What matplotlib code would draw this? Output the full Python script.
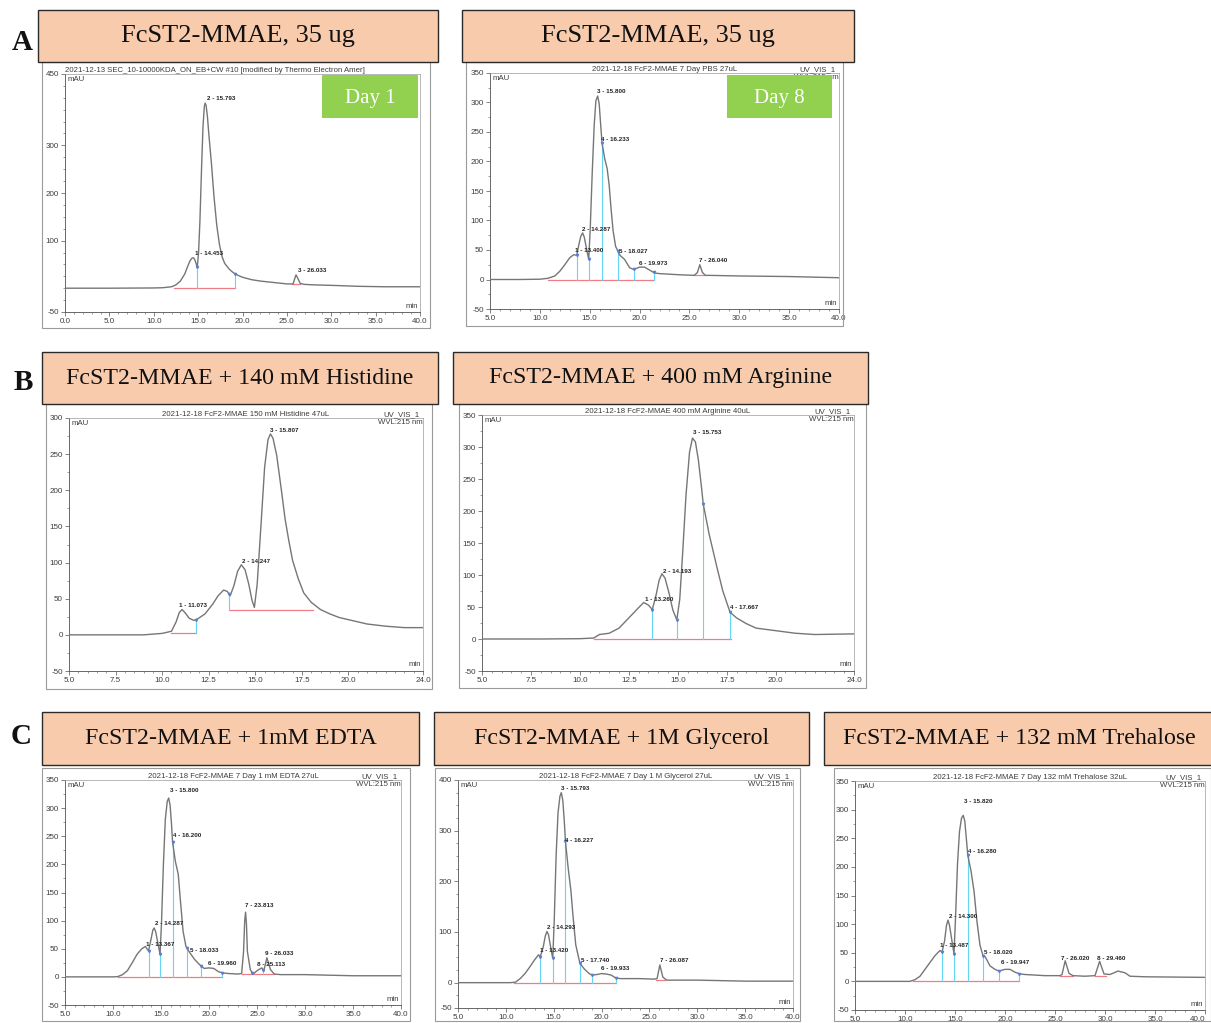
import matplotlib
matplotlib.use("Agg")
import matplotlib.pyplot as plt
import matplotlib.patches as mpatches
import matplotlib.ticker as mticker
import numpy as np

# Canvas in pixels
W, H = 1211, 1023

# ---------------------------------------------------------------- data
# A1: FcST2-MMAE, 35 ug, day 1
a1_time = [0, 5, 10, 11, 12, 12.5, 13, 13.5, 13.8, 14.1, 14.3, 14.45, 14.6, 14.75, 14.9,
           15.05, 15.2, 15.4, 15.55, 15.7, 15.79, 15.9, 16.05, 16.2, 16.5, 16.8, 17.1, 17.4,
           17.7, 18.0, 18.5, 19.0, 19.5, 20, 21, 22, 23, 24, 25, 25.7, 25.85, 26.03, 26.2,
           26.5, 27, 28, 30, 33, 36, 40]
a1_signal = [0, 0, 0.5, 1, 3, 7, 15, 30, 45, 58, 63, 64, 61, 53, 44,
             75, 140, 260, 340, 382, 389, 384, 360, 325, 262, 190, 132, 92,
             66, 52, 40, 32, 27, 23, 18, 15, 13, 11, 9, 9, 18, 28, 22,
             10, 8, 7, 6, 4, 3, 3]
a1_peak_labels = ["1 - 14.453", "2 - 15.793", "3 - 26.033"]
a1_label_t = [14.6, 16.0, 26.2]
a1_label_y = [72, 398, 38]
a1_drops = [14.9, 19.2]
a1_baselines = [(12.3, 19.2, 1), (25.6, 26.5, 8)]

# A2: FcST2-MMAE, 35 ug, day 8 (PBS)
a2_time = [5, 8, 10, 10.8, 11.5, 12, 12.5, 13, 13.4, 13.7, 13.9, 14.1, 14.287, 14.45, 14.65,
           14.9, 15.05, 15.25, 15.45, 15.62, 15.8, 15.95, 16.1, 16.233, 16.5, 16.75, 16.95,
           17.15, 17.35, 17.6, 18.03, 18.5, 19.0, 19.4, 20.0, 20.5, 21.0, 21.5, 22, 24, 25.5,
           25.8, 26.04, 26.3, 26.6, 27, 30, 35, 40]
a2_signal = [0, 0, 0.5, 2, 6, 14, 25, 37, 42, 41, 58, 73, 79, 72, 55,
             34, 85, 180, 262, 303, 311, 298, 262, 232, 205, 188, 160,
             118, 82, 56, 41, 34, 20, 17, 21, 21, 16, 11, 10, 8, 7,
             12, 25, 12, 7, 7, 6, 5, 3]
a2_peak_labels = ["1 - 13.400", "2 - 14.287", "3 - 15.800", "4 - 16.233",
                  "5 - 18.027", "6 - 19.973", "7 - 26.040"]
a2_label_t = [13.5, 14.27, 15.77, 16.17, 17.93, 19.9, 26.0]
a2_label_y = [50, 85, 318, 237, 48, 27, 32]
a2_drops = [13.7, 14.9, 16.233, 17.8, 19.4, 21.4]
a2_baselines = [(10.8, 21.4, 0), (25.5, 26.6, 7)]

# B1: + 140 mM histidine
b1_time = [5, 8, 9, 10, 10.5, 10.75, 10.92, 11.07, 11.25, 11.45, 11.7, 11.9, 12.3, 12.7,
           13.0, 13.3, 13.5, 13.65, 13.85, 14.05, 14.25, 14.45, 14.65, 14.82, 14.95, 15.1,
           15.3, 15.5, 15.68, 15.81, 15.95, 16.15, 16.4, 16.6, 16.8, 17.0, 17.3, 17.6, 18.0,
           18.5, 19.0, 19.5, 20, 21, 22, 23, 24]
b1_signal = [0, 0, 0, 2, 5, 18, 31, 35, 30, 23, 20, 22, 29, 42,
             54, 62, 60, 54, 68, 88, 97, 90, 70, 48, 38, 70,
             150, 232, 270, 278, 272, 248, 200, 160, 130, 103, 78, 58, 45,
             35, 29, 24, 21, 15, 12, 10, 10]
b1_peak_labels = ["1 - 11.073", "2 - 14.247", "3 - 15.807"]
b1_label_t = [10.91, 14.27, 15.79]
b1_label_y = [40, 101, 283]
b1_drops = [11.8, 13.6]
b1_baselines = [(10.5, 11.8, 3), (13.6, 18.1, 35)]

# B2: + 400 mM arginine
b2_time = [5, 8, 10, 10.7, 11.0, 11.5, 12.0, 12.5, 13.0, 13.26, 13.5, 13.7, 13.9, 14.05,
           14.19, 14.35, 14.55, 14.75, 14.95, 15.1, 15.25, 15.42, 15.6, 15.75, 15.9, 16.05,
           16.2, 16.3, 16.6, 17.0, 17.3, 17.667, 18.0, 18.5, 19, 20, 21, 22, 24]
b2_signal = [0, 0, 0.5, 1.5, 7, 9, 17, 33, 49, 57, 53, 46, 70, 92,
             102, 95, 72, 45, 30, 62, 135, 225, 292, 314, 308, 280,
             240, 211, 164, 112, 75, 42, 33, 24, 17, 13, 9, 7, 8]
b2_peak_labels = ["1 - 13.260", "2 - 14.193", "3 - 15.753", "4 - 17.667"]
b2_label_t = [13.33, 14.22, 15.8, 17.69]
b2_label_y = [62, 106, 322, 49]
b2_drops = [13.7, 14.95, 16.3, 17.667]
b2_baselines = [(10.7, 17.7, 0)]

# C1: + 1 mM EDTA
c1_time = [5, 8, 10, 10.5, 11, 11.5, 12, 12.5, 13.0, 13.367, 13.7, 13.95, 14.15, 14.287,
           14.45, 14.7, 14.9, 15.05, 15.25, 15.45, 15.65, 15.8, 15.95, 16.1, 16.2, 16.5,
           16.8, 17.0, 17.3, 17.6, 18.0, 18.5, 19, 19.5, 20, 20.5, 21.0, 21.5, 22, 23, 23.4,
           23.6, 23.72, 23.81, 23.9, 24.0, 24.3, 24.6, 25.0, 25.5, 25.7, 26.03, 26.4, 26.8,
           27.5, 30, 35, 40]
c1_signal = [0, 0, 0, 0.5, 4, 11, 25, 40, 50, 54, 46, 66, 83, 87,
             80, 58, 40, 95, 200, 280, 312, 318, 305, 270, 240, 205,
             182, 140, 81, 54, 43, 31, 22, 15, 16, 15, 9, 7, 6, 5, 6,
             45, 100, 115, 95, 45, 13, 5, 11, 16, 10, 34, 13, 5,
             4, 4, 2, 2]
c1_peak_labels = ["1 - 13.367", "2 - 14.287", "3 - 15.800", "4 - 16.200", "5 - 18.033",
                  "6 - 19.960", "7 - 23.813", "8 - 25.113", "9 - 26.033"]
c1_label_t = [13.4, 14.4, 15.9, 16.2, 18.0, 19.9, 23.7, 25.0, 25.8]
c1_label_y = [58, 95, 332, 252, 47, 24, 127, 22, 41]
c1_drops = [13.7, 14.9, 16.2, 17.7, 19.2, 21.4, 24.5, 25.6]
c1_baselines = [(10.5, 21.4, 0), (23.4, 26.8, 5)]

# C2: + 1 M glycerol
c2_time = [5, 8, 10.5, 11, 11.5, 12, 12.5, 13, 13.42, 13.6, 13.9, 14.12, 14.29, 14.45, 14.7,
           14.9, 15.05, 15.25, 15.45, 15.65, 15.79, 15.95, 16.1, 16.227, 16.5, 16.8, 17.0,
           17.3, 17.74, 18.2, 18.7, 19.0, 19.5, 20.0, 20.5, 21.0, 21.5, 22, 24, 25.5, 25.8,
           26.09, 26.4, 26.8, 28, 30, 35, 40]
c2_signal = [0, 0, 0, 1, 8, 18, 31, 45, 55, 51, 70, 92, 101, 95, 68,
             48, 120, 250, 335, 368, 375, 360, 320, 279, 228, 181, 135,
             75, 38, 27, 18, 15, 16, 18, 17, 15, 9, 8, 8, 7, 8,
             35, 11, 5, 5, 5, 3, 3]
c2_peak_labels = ["1 - 13.420", "2 - 14.293", "3 - 15.793", "4 - 16.227", "5 - 17.740",
                  "6 - 19.933", "7 - 26.087"]
c2_label_t = [13.6, 14.3, 15.8, 16.15, 17.8, 19.9, 26.1]
c2_label_y = [63, 108, 383, 280, 43, 28, 43]
c2_drops = [13.6, 14.9, 16.227, 17.74, 19.0, 21.5]
c2_baselines = [(10.8, 21.5, 0), (25.7, 26.6, 5)]

# C3: + 132 mM trehalose
c3_time = [5, 8, 10.5, 11, 11.5, 12, 12.5, 13, 13.5, 13.7, 13.95, 14.15, 14.3, 14.45, 14.7,
           14.9, 15.05, 15.25, 15.45, 15.65, 15.82, 15.98, 16.12, 16.28, 16.6, 16.9, 17.2,
           17.5, 17.8, 18.02, 18.5, 19, 19.4, 20, 20.5, 21, 21.5, 22, 24, 25.5, 25.7, 26.02,
           26.4, 26.8, 28, 29, 29.46, 29.9, 30.5, 31.3, 32, 32.5, 34, 40]
c3_signal = [0, 0, 0, 3, 9, 21, 33, 45, 54, 51, 70, 98, 107, 98, 70,
             48, 110, 205, 262, 285, 290, 280, 252, 220, 193, 158, 104,
             63, 45, 43, 27, 21, 18, 21, 21, 16, 13, 12, 10, 10, 12, 36,
             14, 10, 9, 10, 35, 13, 12, 18, 15, 9, 8, 7]
c3_peak_labels = ["1 - 13.487", "2 - 14.300", "3 - 15.820", "4 - 16.280", "5 - 18.020",
                  "6 - 19.947", "7 - 26.020", "8 - 29.460"]
c3_label_t = [13.55, 14.4, 15.85, 16.3, 17.9, 19.6, 25.6, 29.2]
c3_label_y = [62, 114, 315, 226, 50, 33, 40, 40]
c3_drops = [13.7, 14.9, 16.28, 17.8, 19.4, 21.4]
c3_baselines = [(10.8, 21.4, 0), (25.5, 26.8, 10), (29.0, 30.1, 10)]

# Titles / run headers
panel_titles = ["FcST2-MMAE, 35 ug", "FcST2-MMAE, 35 ug",
                "FcST2-MMAE + 140 mM Histidine", "FcST2-MMAE + 400 mM Arginine",
                "FcST2-MMAE + 1mM EDTA", "FcST2-MMAE + 1M Glycerol",
                "FcST2-MMAE + 132 mM Trehalose"]
run_headers = ["2021-12-13 SEC_10-10000KDA_ON_EB+CW #10 [modified by Thermo Electron Amer]",
               "2021-12-18 FcF2-MMAE 7 Day PBS 27uL",
               "2021-12-18 FcF2-MMAE 150 mM Histidine 47uL",
               "2021-12-18 FcF2-MMAE 400 mM Arginine 40uL",
               "2021-12-18 FcF2-MMAE 7 Day 1 mM EDTA 27uL",
               "2021-12-18 FcF2-MMAE 7 Day 1 M Glycerol 27uL",
               "2021-12-18 FcF2-MMAE 7 Day 132 mM Trehalose 32uL"]
day_labels = ["Day 1", "Day 8"]

# ---------------------------------------------------------------- style
SERIF = ["Liberation Serif", "DejaVu Serif"]
SANS = ["Liberation Sans", "DejaVu Sans"]
PEACH = "#F8CBAD"
GREEN = "#92D050"
CURVE = "#767676"
RED = "#f07c86"
CYAN = "#62d6f2"
TXT = "#3c3c3c"

plt.rcParams.update({"font.family": SANS, "axes.linewidth": 0.6})
fig = plt.figure(figsize=(W / 100, H / 100), dpi=100)


def fig_rect(x0, y0, x1, y1):
    return [x0 / W, 1 - y1 / H, (x1 - x0) / W, (y1 - y0) / H]


def add_box(x0, y0, x1, y1, face, edge, lw, z):
    r = fig_rect(x0, y0, x1, y1)
    fig.add_artist(mpatches.Rectangle((r[0], r[1]), r[2], r[3], transform=fig.transFigure,
                                      facecolor=face, edgecolor=edge, linewidth=lw,
                                      zorder=z))


def title_box(x0, y0, x1, y1, text, size=17.2):
    add_box(x0, y0, x1, y1, PEACH, "#2a2a2a", 1.0, 5)
    fig.text((x0 + x1) / 2 / W, 1 - (y0 + y1) / 2 / H, text, ha="center", va="center",
             fontsize=size, family=SERIF, color="#111111", zorder=6)


def day_box(x0, y0, x1, y1, text):
    add_box(x0, y0, x1, y1, GREEN, "none", 0, 5)
    fig.text((x0 + x1) / 2 / W, 1 - (y0 + y1) / 2 / H - 0.002, text, ha="center",
             va="center", fontsize=15, family=SERIF, color="white", zorder=6)


def chrom(frame, area, t, s, xlim, xticks, xlabels, xminor, ylim, yticks, header,
          header_left, labels, lab_t, lab_y, drops, baselines, uv=True):
    add_box(*frame, face="none", edge="#9a9a9a", lw=0.8, z=1)
    ax = fig.add_axes(fig_rect(*area))
    ax.patch.set_alpha(0)
    ax.set_xlim(*xlim)
    ax.set_ylim(*ylim)
    for side in ["top", "right"]:
        ax.spines[side].set_color("#9a9a9a")
        ax.spines[side].set_linewidth(0.5)
    for side in ["left", "bottom"]:
        ax.spines[side].set_color("#505050")
    ax.set_xticks(xticks)
    ax.set_xticklabels(xlabels)
    ax.set_yticks(yticks)
    ax.set_yticklabels([str(v) for v in yticks])
    ax.xaxis.set_minor_locator(mticker.MultipleLocator(xminor))
    ax.yaxis.set_minor_locator(mticker.MultipleLocator(25))
    ax.tick_params(which="major", length=3, width=0.5, color="#505050",
                   labelsize=5.8, labelcolor=TXT, pad=1.5)
    ax.tick_params(which="minor", length=1.5, width=0.4, color="#505050")

    t = np.asarray(t, float)
    s = np.asarray(s, float)
    # integration baselines and peak delimiters
    for t0, t1, lvl in baselines:
        ax.plot([t0, t1], [lvl, lvl], color=RED, lw=0.9, zorder=2)
    for td in drops:
        top = np.interp(td, t, s)
        base = 0
        for t0, t1, lvl in baselines:
            if t0 - 0.05 <= td <= t1 + 0.05:
                base = lvl
        ax.plot([td, td], [base, top], color=CYAN, lw=0.8, zorder=2)
        ax.plot([td], [top], marker="v", ms=1.6, color="#5a7fd8", zorder=4)
    ax.plot(t, s, color=CURVE, lw=1.0, zorder=3, solid_joinstyle="round")
    for lab, lt, ly in zip(labels, lab_t, lab_y):
        ax.text(lt, ly, lab, fontsize=4.5, fontweight="bold", color="#222222",
                ha="left", va="center", zorder=5)

    ax.text(0.008, 0.992, "mAU", transform=ax.transAxes, fontsize=5.6, color=TXT,
            ha="left", va="top")
    ax.text(0.995, 0.01, "min", transform=ax.transAxes, fontsize=5.6, color=TXT,
            ha="right", va="bottom")
    if header_left:
        ax.text(0.0, 1.0, header, transform=ax.transAxes, fontsize=5.6, color=TXT,
                ha="left", va="bottom")
    else:
        ax.text(0.5, 1.0, header, transform=ax.transAxes, fontsize=5.6, color=TXT,
                ha="center", va="bottom")
    if uv:
        ax.text(0.99, 1.0, "UV_VIS_1", transform=ax.transAxes, fontsize=5.6, color=TXT,
                ha="right", va="bottom")
        ax.text(0.998, 0.995, "WVL:215 nm", transform=ax.transAxes, fontsize=5.6,
                color=TXT, ha="right", va="top")
    return ax


ticks_40 = [5, 10, 15, 20, 25, 30, 35, 40]
labels_40 = [f"{v:.1f}" for v in ticks_40]
ticks_24 = [5, 7.5, 10, 12.5, 15, 17.5, 20, 24]
labels_24 = [f"{v:.1f}" for v in ticks_24]
y350 = [350, 300, 250, 200, 150, 100, 50, 0, -50]

# ---------------------------------------------------------------- row A
chrom((42, 62, 430, 328), (65, 74, 420, 312), a1_time, a1_signal, (0, 40),
      [0] + ticks_40, ["0.0"] + labels_40, 1, (-50, 450), [450, 300, 200, 100, -50],
      run_headers[0], True, a1_peak_labels, a1_label_t, a1_label_y, a1_drops,
      a1_baselines, uv=False)
chrom((466, 62, 843, 326), (490, 73, 839, 309), a2_time, a2_signal, (5, 40),
      ticks_40, labels_40, 1, (-50, 350), y350, run_headers[1], False,
      a2_peak_labels, a2_label_t, a2_label_y, a2_drops, a2_baselines)
title_box(38, 10, 438, 62, panel_titles[0], size=19)
title_box(462, 10, 854, 62, panel_titles[1], size=19)
day_box(322, 75, 418, 118, day_labels[0])
day_box(727, 75, 832, 118, day_labels[1])

# ---------------------------------------------------------------- row B
chrom((46, 404, 432, 689), (69, 418, 423, 671), b1_time, b1_signal, (5, 24),
      ticks_24, labels_24, 0.5, (-50, 300), y350[1:], run_headers[2], False,
      b1_peak_labels, b1_label_t, b1_label_y, b1_drops, b1_baselines)
chrom((459, 404, 866, 688), (482, 415, 854, 671), b2_time, b2_signal, (5, 24),
      ticks_24, labels_24, 0.5, (-50, 350), y350, run_headers[3], False,
      b2_peak_labels, b2_label_t, b2_label_y, b2_drops, b2_baselines)
title_box(42, 352, 438, 404, panel_titles[2])
title_box(453, 352, 868, 404, panel_titles[3])

# ---------------------------------------------------------------- row C
chrom((42, 768, 410, 1021), (65, 780, 401, 1005), c1_time, c1_signal, (5, 40),
      ticks_40, labels_40, 1, (-50, 350), y350, run_headers[4], False,
      c1_peak_labels, c1_label_t, c1_label_y, c1_drops, c1_baselines)
chrom((435, 768, 800, 1021), (458, 780, 793, 1008), c2_time, c2_signal, (5, 40),
      ticks_40, labels_40, 1, (-50, 400), [400, 300, 200, 100, 0, -50], run_headers[5],
      False, c2_peak_labels, c2_label_t, c2_label_y, c2_drops, c2_baselines)
ax_c3 = chrom((834, 768, 1211, 1021), (855, 781, 1205, 1010), c3_time, c3_signal, (5, 40),
              ticks_40, labels_40, 1, (-50, 350), y350, run_headers[6], False,
              c3_peak_labels, c3_label_t, c3_label_y, c3_drops, c3_baselines)
ax_c3.get_xticklabels()[-1].set_horizontalalignment("right")
title_box(42, 712, 419, 765, panel_titles[4])
title_box(434, 712, 809, 765, panel_titles[5])
title_box(824, 712, 1215, 765, panel_titles[6])

# panel letters
for letter, (lx, ly) in zip("ABC", [(22, 42), (23, 383), (21, 737)]):
    fig.text(lx / W, 1 - ly / H, letter, ha="center", va="center", fontsize=21,
             fontweight="bold", family=SERIF, color="#111111")

fig.savefig("out.png", dpi=100)
